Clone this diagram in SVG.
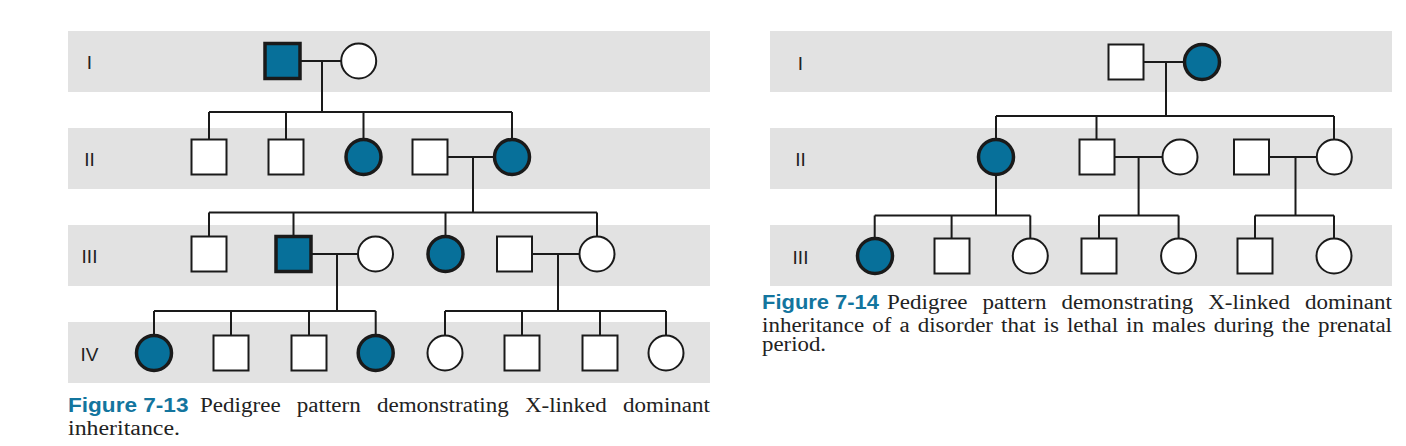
<svg xmlns="http://www.w3.org/2000/svg" width="1406" height="446" viewBox="0 0 1406 446">
<style>
.band{fill:#e2e2e2}
.lbl{font-family:"Liberation Sans",Arial,sans-serif;font-size:19px;fill:#222;text-anchor:middle}
.ln{fill:none;stroke:#1a1a1a;stroke-width:2}
.u{fill:#fff;stroke:#1a1a1a;stroke-width:2}
.a{fill:#07709a;stroke:#1a1a1a;stroke-width:3.5}
.fig{font-family:"Liberation Sans",Arial,sans-serif;font-weight:bold;font-size:21px;fill:#13759e}
.cap{font-family:"Liberation Serif","Times New Roman",serif;font-size:20px;fill:#222}
</style>
<rect width="1406" height="446" fill="#fff"/>
<g id="bands">
<rect class="band" x="68" y="31" width="642" height="61"/>
<rect class="band" x="68" y="128" width="642" height="61"/>
<rect class="band" x="68" y="225" width="642" height="61"/>
<rect class="band" x="68" y="322" width="642" height="61"/>
<rect class="band" x="770" y="31" width="622" height="61"/>
<rect class="band" x="770" y="128" width="622" height="61"/>
<rect class="band" x="770" y="225" width="622" height="61"/>
</g>
<g id="labels">
<text class="lbl" x="89.5" y="69">I</text>
<text class="lbl" x="89.5" y="166">II</text>
<text class="lbl" x="89.5" y="263">III</text>
<text class="lbl" x="89.5" y="361">IV</text>
<text class="lbl" x="800.5" y="70">I</text>
<text class="lbl" x="800.5" y="166">II</text>
<text class="lbl" x="800.5" y="264">III</text>
</g>
<g id="connectors">
<path class="ln" d="M282.5 61H358.7M322 61V112M209 112H512M209 112V139M286 112V139M363.5 112V139M512 112V139"/>
<path class="ln" d="M430 157H512M473 157V212.5M209 212.5H597M209 212.5V236M293.5 212.5V236M445.5 212.5V236M597 212.5V236"/>
<path class="ln" d="M293.5 254H375.5M337 254V311M514.5 254H597M558 254V311"/>
<path class="ln" d="M154 311H375.7M154 311V335M231 311V335M309 311V335M375.7 311V335M445 311H666M445 311V335M522 311V335M600 311V335M666 311V335"/>
<path class="ln" d="M1126 62H1202M1166 62V116M996 116H1334M996 116V139M1096.5 116V139M1334 116V139"/>
<path class="ln" d="M1097 157H1180M1138.6 157V215.5M1251.6 157H1334.3M1295.5 157V215.5M996 157V215.5"/>
<path class="ln" d="M874.7 215.5H1030.3M874.7 215.5V238M951.6 215.5V238M1030.3 215.5V238M1099 215.5H1178.6M1099 215.5V238M1178.6 215.5V238M1255 215.5H1334M1255 215.5V238M1334 215.5V238"/>
</g>
<g id="L-I-1"><rect class="a" x="265" y="43.5" width="35" height="35"/></g>
<g id="L-I-2"><circle class="u" cx="358.7" cy="61" r="17.5"/></g>
<g id="L-II-1"><rect class="u" x="191.5" y="139.5" width="35" height="35"/></g>
<g id="L-II-2"><rect class="u" x="268.5" y="139.5" width="35" height="35"/></g>
<g id="L-II-3"><circle class="a" cx="363.5" cy="157" r="17.5"/></g>
<g id="L-II-4"><rect class="u" x="412.5" y="139.5" width="35" height="35"/></g>
<g id="L-II-5"><circle class="a" cx="512" cy="157" r="17.5"/></g>
<g id="L-III-1"><rect class="u" x="191.5" y="236.5" width="35" height="35"/></g>
<g id="L-III-2"><rect class="a" x="276" y="236.5" width="35" height="35"/></g>
<g id="L-III-3"><circle class="u" cx="375.5" cy="254" r="17.5"/></g>
<g id="L-III-4"><circle class="a" cx="445.5" cy="254" r="17.5"/></g>
<g id="L-III-5"><rect class="u" x="497" y="236.5" width="35" height="35"/></g>
<g id="L-III-6"><circle class="u" cx="597" cy="254" r="17.5"/></g>
<g id="L-IV-1"><circle class="a" cx="154" cy="353" r="17.5"/></g>
<g id="L-IV-2"><rect class="u" x="213.5" y="335.5" width="35" height="35"/></g>
<g id="L-IV-3"><rect class="u" x="291.5" y="335.5" width="35" height="35"/></g>
<g id="L-IV-4"><circle class="a" cx="375.7" cy="353" r="17.5"/></g>
<g id="L-IV-5"><circle class="u" cx="445" cy="353" r="17.5"/></g>
<g id="L-IV-6"><rect class="u" x="504.5" y="335.5" width="35" height="35"/></g>
<g id="L-IV-7"><rect class="u" x="582.5" y="335.5" width="35" height="35"/></g>
<g id="L-IV-8"><circle class="u" cx="666" cy="353" r="17.5"/></g>
<g id="R-I-1"><rect class="u" x="1108.5" y="44.5" width="35" height="35"/></g>
<g id="R-I-2"><circle class="a" cx="1202" cy="62" r="17.5"/></g>
<g id="R-II-1"><circle class="a" cx="996" cy="157" r="17.5"/></g>
<g id="R-II-2"><rect class="u" x="1079.5" y="139.5" width="35" height="35"/></g>
<g id="R-II-3"><circle class="u" cx="1180" cy="157" r="17.5"/></g>
<g id="R-II-4"><rect class="u" x="1234" y="139.5" width="35" height="35"/></g>
<g id="R-II-5"><circle class="u" cx="1334.3" cy="157" r="17.5"/></g>
<g id="R-III-1"><circle class="a" cx="875" cy="256" r="17.5"/></g>
<g id="R-III-2"><rect class="u" x="934.5" y="238.5" width="35" height="35"/></g>
<g id="R-III-3"><circle class="u" cx="1030.3" cy="256" r="17.5"/></g>
<g id="R-III-4"><rect class="u" x="1081.5" y="238.5" width="35" height="35"/></g>
<g id="R-III-5"><circle class="u" cx="1178.6" cy="256" r="17.5"/></g>
<g id="R-III-6"><rect class="u" x="1237.5" y="238.5" width="35" height="35"/></g>
<g id="R-III-7"><circle class="u" cx="1334" cy="256" r="17.5"/></g>
<g id="caption-7-13">
<text class="cap" y="412"><tspan class="fig" x="68" y="412" textLength="120.5" lengthAdjust="spacingAndGlyphs">Figure 7-13</tspan><tspan x="200" y="412" word-spacing="9" textLength="510" lengthAdjust="spacingAndGlyphs">Pedigree pattern demonstrating X-linked dominant</tspan><tspan x="68" y="434.5" textLength="112" lengthAdjust="spacingAndGlyphs">inheritance.</tspan></text>
</g>
<g id="caption-7-14">
<text class="cap" y="309"><tspan class="fig" x="762" y="309" textLength="117" lengthAdjust="spacingAndGlyphs">Figure 7-14</tspan><tspan x="887" y="309" word-spacing="8" textLength="505" lengthAdjust="spacingAndGlyphs">Pedigree pattern demonstrating X-linked dominant</tspan><tspan x="762" y="331.5" word-spacing="2" textLength="630" lengthAdjust="spacingAndGlyphs">inheritance of a disorder that is lethal in males during the prenatal</tspan><tspan x="762" y="351" textLength="64" lengthAdjust="spacingAndGlyphs">period.</tspan></text>
</g>
</svg>
